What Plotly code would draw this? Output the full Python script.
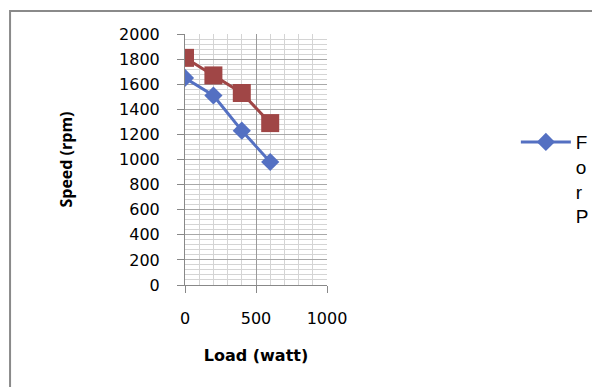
import plotly.graph_objects as go

load_w = [0, 200, 400, 600]
speed_series1 = [1650, 1510, 1230, 980]
speed_series2 = [1810, 1670, 1530, 1290]
series1_name = "F<br>o<br>r<br>P"
x_ticks = [0, 500, 1000]
y_ticks = [0, 200, 400, 600, 800, 1000, 1200, 1400, 1600, 1800, 2000]

blue = "#5470C2"
red = "#A04646"

fig = go.Figure()
fig.add_trace(go.Scatter(
    x=load_w, y=speed_series1, mode="lines+markers", name=series1_name,
    line=dict(color=blue, width=3),
    marker=dict(symbol="diamond", size=14, color=blue),
    showlegend=True,
))
fig.add_trace(go.Scatter(
    x=load_w, y=speed_series2, mode="lines+markers", name="Series2",
    line=dict(color=red, width=3),
    marker=dict(symbol="square", size=18, color=red),
    showlegend=False,
))

fig.update_layout(
    width=592, height=387,
    margin=dict(l=185, r=265, t=34, b=102, autoexpand=False),
    paper_bgcolor="white", plot_bgcolor="white",
    font=dict(family="DejaVu Sans", color="#000", size=16),
    legend=dict(
        x=2.33, y=0.645, xanchor="left", yanchor="top",
        font=dict(family="Liberation Sans", size=19, color="#000"),
        valign="top", itemwidth=50, bgcolor="rgba(0,0,0,0)",
        tracegroupgap=0,
    ),
    shapes=[dict(
        type="rect", xref="paper", yref="paper",
        x0=-1.232, x1=3.0, y0=-1.0, y1=1.0916,
        line=dict(color="#8a8a8a", width=2), layer="below",
    )],
)

fig.update_xaxes(
    range=[0, 1000], tickvals=x_ticks, ticktext=[str(v) for v in x_ticks],
    showline=True, linecolor="#888", linewidth=1,
    ticks="outside", ticklen=7, tickcolor="#888",
    ticklabelstandoff=12,
    showgrid=True, gridcolor="#9a9a9a", gridwidth=1,
    minor=dict(dtick=100, showgrid=True, gridcolor="#d4d4d4", gridwidth=1),
    zeroline=False, mirror=False,
    title=dict(text="<b>Load (watt)</b>", font=dict(family="DejaVu Sans", size=16), standoff=22),
    tickfont=dict(family="DejaVu Sans", size=16),
)
fig.update_yaxes(
    range=[0, 2000], tickvals=y_ticks, ticktext=[str(v) for v in y_ticks],
    showline=True, linecolor="#888", linewidth=1,
    ticks="outside", ticklen=7, tickcolor="#888",
    ticklabelstandoff=14,
    showgrid=True, gridcolor="#a8a8a8", gridwidth=1,
    minor=dict(dtick=40, showgrid=True, gridcolor="#d4d4d4", gridwidth=1),
    zeroline=False,
    title=dict(text="<b>Speed (rpm)</b>", font=dict(family="Open Sans", size=16), standoff=42),
    tickfont=dict(family="DejaVu Sans", size=16),
)

fig.write_html("out.html")
